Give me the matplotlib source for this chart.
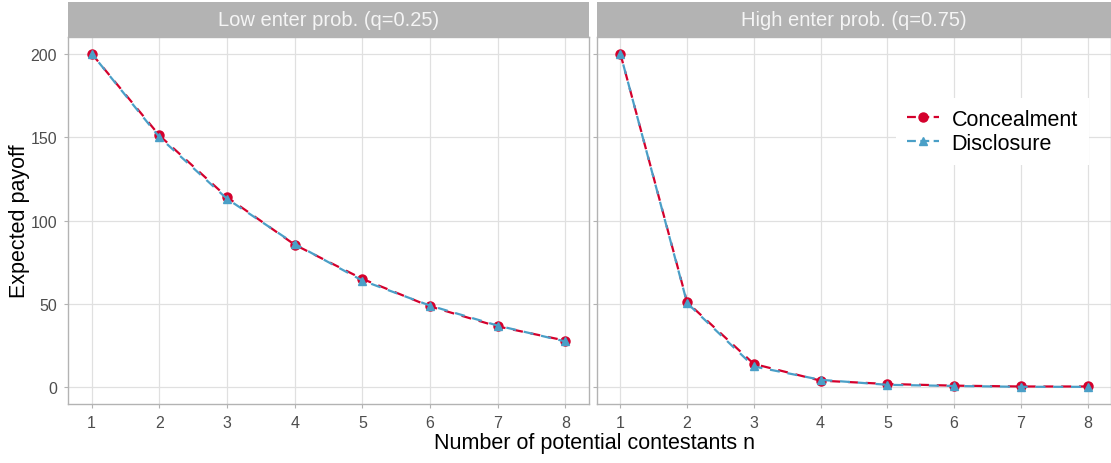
import matplotlib
matplotlib.use('Agg')
import matplotlib.pyplot as plt
from matplotlib.patches import Rectangle
from matplotlib.lines import Line2D

plt.rcParams['font.family'] = ['Liberation Sans', 'DejaVu Sans']

# number of potential contestants
n = [1, 2, 3, 4, 5, 6, 7, 8]

# expected payoff, low entry probability q=0.25
low_conceal = [200, 151, 114, 85.5, 65, 48.5, 36.5, 28]
low_disclose = [200, 150, 113, 86, 64, 49, 37, 27.5]

# expected payoff, high entry probability q=0.75
high_conceal = [200, 51, 14, 4, 2, 1, 0.5, 0.5]
high_disclose = [200, 50.5, 12.5, 4.5, 1.5, 0.8, 0.3, 0.3]

panel_titles = ['Low enter prob. (q=0.25)', 'High enter prob. (q=0.75)']
series_names = ['Concealment', 'Disclosure']
yticks = [0, 50, 100, 150, 200]

red = '#d4002c'
blue = '#4a9fc7'
grid_col = '#e0e0e0'
border_col = '#b3b3b3'
dash = (0, (4.5, 3.5))

fig = plt.figure(figsize=(11.11, 4.64), dpi=100)
W, H = 1111.0, 464.0
ax1 = fig.add_axes([68 / W, 59 / H, 521 / W, 367 / H])
ax2 = fig.add_axes([597 / W, 59 / H, 514 / W, 367 / H])

data = [(low_conceal, low_disclose), (high_conceal, high_disclose)]
for ax, (conc, disc), title in zip([ax1, ax2], data, panel_titles):
    ax.plot(n, conc, color=red, lw=1.6, linestyle=dash,
            marker='o', ms=6.5, zorder=3)
    ax.plot(n, disc, color=blue, lw=1.6, linestyle=(3, (4.5, 3.5)),
            marker='^', ms=6, zorder=4)
    ax.set_xlim(0.65, 8.35)
    ax.set_ylim(-10, 210)
    ax.set_xticks(n)
    ax.set_yticks(yticks)
    ax.grid(True, color=grid_col, lw=0.9)
    ax.set_axisbelow(True)
    for s in ax.spines.values():
        s.set_color(border_col)
        s.set_linewidth(1.0)
    ax.tick_params(colors=border_col, labelcolor='#4d4d4d', labelsize=11.5,
                   length=3, width=0.8, pad=5)
    # facet strip
    strip_h = 35 / 367
    ax.add_patch(Rectangle((0, 1), 1, strip_h, transform=ax.transAxes,
                           facecolor=border_col, edgecolor='none', clip_on=False))
    ax.text(0.5, 1 + strip_h / 2, title, transform=ax.transAxes, ha='center',
            va='center', color='#f5f5f5', fontsize=14.5)

ax2.tick_params(labelleft=False)

ax1.set_ylabel('Expected payoff', fontsize=15.5, color='black')
ax1.yaxis.set_label_coords(-38 / 521, 0.5)
fig.text(595 / W, 1 - 444 / H, 'Number of potential contestants n',
         ha='center', va='center', fontsize=15.5, color='black')

handles = [Line2D([], [], color=red, lw=1.6, linestyle=(0, (4, 2)), marker='o', ms=6.5),
           Line2D([], [], color=blue, lw=1.6, linestyle=(0, (4, 2)), marker='^', ms=6)]
leg = ax2.legend(handles, series_names, loc='upper left',
                 bbox_to_anchor=(288 / 514, 1 - 50 / 367), frameon=True,
                 fontsize=15.5, handlelength=1.5, handletextpad=0.6,
                 labelspacing=0.15, borderpad=0.5, fancybox=False)
leg.get_frame().set_edgecolor('none')
leg.get_frame().set_facecolor('white')
leg.get_frame().set_alpha(1)

fig.savefig('out.png', dpi=100)
